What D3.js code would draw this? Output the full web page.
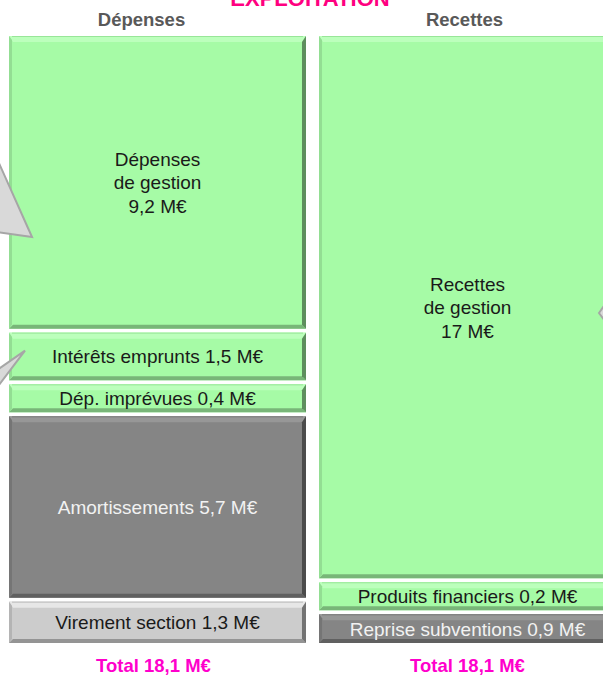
<!DOCTYPE html>
<html lang="fr">
<head>
<meta charset="UTF-8">
<title>Exploitation</title>
<script src="https://d3js.org/d3.v7.min.js"></script>
<style>
  * { margin: 0; padding: 0; box-sizing: border-box; }
  body { background: #fff; font-family: Arial, "Liberation Sans", sans-serif; }
</style>
</head>
<body>
<div id="chart"></div>
<script>
// données
const titre = "EXPLOITATION";
const colonnes = ["Dépenses", "Recettes"];

const depLabels = ["Dépenses de gestion", "Intérêts emprunts", "Dép. imprévues", "Amortissements", "Virement section"];
const depValues = [9.2, 1.5, 0.4, 5.7, 1.3];
const depTypes  = ["vert", "vert", "vert", "gris", "clair"];

const recLabels = ["Recettes de gestion", "Produits financiers", "Reprise subventions"];
const recValues = [17, 0.2, 0.9];
const recTypes  = ["vert", "vert", "gris"];

const W = 603, H = 677;
const yTop = 36, yBottom = 643;
const minH = 28, gap = 4, bev = 4;

const couleurs = { vert: "#a6fba6", gris: "#858585", clair: "#cccccc" };
const texteCouleur = { vert: "#1a1a1a", gris: "#f2f2f2", clair: "#1a1a1a" };

const fmt = v => String(v).replace(".", ",");

const svg = d3.select("#chart").append("svg")
  .attr("width", W).attr("height", H);

const x = d3.scaleBand()
  .domain(colonnes)
  .range([9, 616])
  .paddingInner(0.042);

// hauteur proportionnelle avec un minimum pour les petits blocs
function empiler(values) {
  const n = values.length;
  const dispo = (yBottom - yTop) - gap * (n - 1);
  let petits = values.map(() => false);
  let k;
  for (let it = 0; it < 5; it++) {
    const nbPetits = petits.filter(d => d).length;
    const somme = d3.sum(values.filter((v, i) => !petits[i]));
    k = d3.scaleLinear().domain([0, somme]).range([0, dispo - nbPetits * minH]);
    petits = values.map(v => k(v) < minH);
  }
  let y = yTop;
  return values.map((v, i) => {
    const h = petits[i] ? minH : k(v);
    const r = { y0: y, h: h };
    y += h + gap;
    return r;
  });
}

const colonnesData = [
  { nom: "Dépenses", labels: depLabels, values: depValues, types: depTypes },
  { nom: "Recettes", labels: recLabels, values: recValues, types: recTypes }
];

const blocs = [];
colonnesData.forEach(c => {
  const pos = empiler(c.values);
  c.values.forEach((v, i) => {
    blocs.push({ col: c.nom, label: c.labels[i], value: v, type: c.types[i], y0: pos[i].y0, h: pos[i].h });
  });
});

// blocs
const g = svg.append("g");
const b = g.selectAll("g.bloc").data(blocs).join("g").attr("class", "bloc");

b.each(function(d) {
  const sel = d3.select(this);
  const x0 = x(d.col), w = x.bandwidth(), y0 = d.y0, h = d.h;
  const c = couleurs[d.type];
  sel.append("rect").attr("x", x0).attr("y", y0).attr("width", w).attr("height", h).attr("fill", c);
  const poly = (pts, fill) => sel.append("polygon").attr("points", pts.map(p => p.join(",")).join(" ")).attr("fill", fill);
  // haut clair
  poly([[x0, y0], [x0 + w, y0], [x0 + w - bev, y0 + bev + 2], [x0 + bev, y0 + bev + 2]], d3.color(c).brighter(0.35));
  sel.append("line").attr("x1", x0 + 3).attr("x2", x0 + w - 3).attr("y1", y0 + 0.5).attr("y2", y0 + 0.5)
    .attr("stroke", d3.color(c).darker(0.25)).attr("stroke-width", 1);
  // gauche
  poly([[x0, y0], [x0 + bev - 1, y0 + bev], [x0 + bev - 1, y0 + h - bev], [x0, y0 + h]], d3.color(c).darker(0.35));
  // bas
  poly([[x0, y0 + h], [x0 + w, y0 + h], [x0 + w - bev, y0 + h - bev], [x0 + bev, y0 + h - bev]], d3.color(c).darker(0.9));
  // droite
  poly([[x0 + w, y0], [x0 + w, y0 + h], [x0 + w - bev, y0 + h - bev], [x0 + w - bev, y0 + bev + 2]], d3.color(c).darker(1.6));

  const tc = texteCouleur[d.type];
  const cx = x0 + w / 2;
  if (h > 100 && d.label.includes(" de ")) {
    const parts = d.label.split(" de ");
    const lignes = [parts[0], "de " + parts[1], fmt(d.value) + " M€"];
    const yc = y0 + h / 2;
    lignes.forEach((t, j) => {
      sel.append("text").attr("x", cx).attr("y", yc + (j - 1) * 23.5 + 7)
        .attr("text-anchor", "middle").attr("font-size", 19).attr("fill", tc).text(t);
    });
  } else {
    sel.append("text").attr("x", cx).attr("y", y0 + h / 2 + 7)
      .attr("text-anchor", "middle").attr("font-size", 19).attr("fill", tc)
      .text(d.label + " " + fmt(d.value) + " M€");
  }
});

// callouts (triangles gris) au-dessus des blocs
const gestion = blocs.find(d => d.label === "Dépenses de gestion");
const interets = blocs.find(d => d.label === "Intérêts emprunts");
const recGestion = blocs.find(d => d.label === "Recettes de gestion");
const xl = x("Dépenses"), xr = x("Recettes");
const tri = [
  [[xl + 23, gestion.y0 + 201], [xl - 40, gestion.y0 + 60], [xl - 40, gestion.y0 + 192]],
  [[xl + 16, interets.y0 + 18], [xl - 40, interets.y0 + 57], [xl - 40, interets.y0 + 92]],
  [[xr + 280, recGestion.y0 + 277], [xr + 320, recGestion.y0 + 220], [xr + 320, recGestion.y0 + 330]]
];
svg.append("g").selectAll("polygon").data(tri).join("polygon")
  .attr("points", d => d.map(p => p.join(",")).join(" "))
  .attr("fill", "#d9d9d9").attr("stroke", "#a6a6a6").attr("stroke-width", 2);

// titres
svg.append("text").attr("x", 310).attr("y", 6)
  .attr("text-anchor", "middle").attr("font-size", 22).attr("font-weight", "bold")
  .attr("fill", "#ff0080").text(titre);

svg.selectAll("text.entete").data(colonnes).join("text").attr("class", "entete")
  .attr("x", (d, i) => x(d) + x.bandwidth() / 2 + (i === 0 ? -16 : -3))
  .attr("y", 26)
  .attr("text-anchor", "middle").attr("font-size", 18.5).attr("font-weight", "bold")
  .attr("fill", "#595959").text(d => d);

const totaux = [d3.sum(depValues), d3.sum(recValues)];
svg.selectAll("text.total").data(colonnes).join("text").attr("class", "total")
  .attr("x", (d, i) => x(d) + x.bandwidth() / 2 + (i === 0 ? -4 : 0))
  .attr("y", 672)
  .attr("text-anchor", "middle").attr("font-size", 18.5).attr("font-weight", "bold")
  .attr("fill", "#ff00cc").text((d, i) => "Total " + fmt(d3.format(".1f")(totaux[i])) + " M€");
</script>
</body>
</html>
